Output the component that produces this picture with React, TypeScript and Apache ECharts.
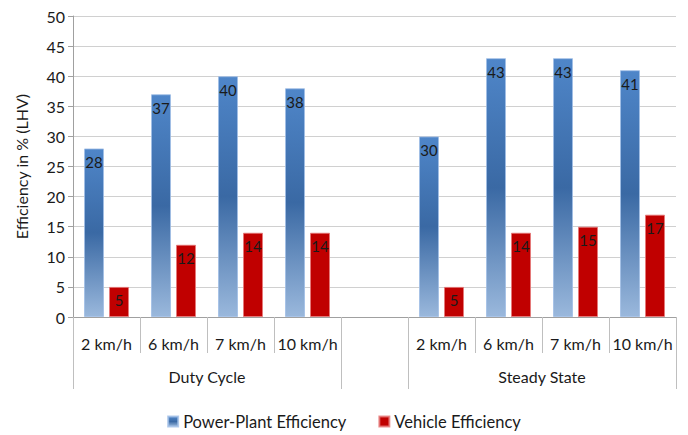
import React, { useEffect, useRef } from "react";
import * as echarts from "echarts";

const categories = ["2 km/h", "6 km/h", "7 km/h", "10 km/h", "", "2 km/h", "6 km/h", "7 km/h", "10 km/h"];
const groupLabels = ["Duty Cycle", "Steady State"];
const powerPlant = [28, 37, 40, 38, null, 30, 43, 43, 41];
const vehicle = [5, 12, 14, 14, null, 5, 14, 15, 17];
const seriesNames = ["Power-Plant Efficiency", "Vehicle Efficiency"];
const yTitle = "Efficiency in % (LHV)";

const FONT = "Lato";

export default function App() {
  const ref = useRef<HTMLDivElement>(null);
  useEffect(() => {
    document.body.style.margin = "0";
    if (!ref.current) return;
    const chart = echarts.init(ref.current, undefined, { renderer: "svg" });
    const boundaries: string[] = new Array(categories.length + 1).fill("");
    boundaries[2] = groupLabels[0];
    boundaries[7] = groupLabels[1];
    const outerIdx = [0, 4, 5, 9];
    const blueGrad = new echarts.graphic.LinearGradient(0, 0, 0, 1, [
      { offset: 0, color: "#4f86c9" },
      { offset: 0.5, color: "#3a69a4" },
      { offset: 1, color: "#9ab8dc" },
    ]);
    chart.setOption({
      animation: false,
      textStyle: { fontFamily: FONT },
      grid: { left: 73, right: 12, top: 16, bottom: 118 },
      legend: {
        bottom: 0,
        left: "center",
        icon: "rect",
        itemWidth: 10,
        itemHeight: 10,
        itemGap: 32,
        textStyle: { fontSize: 16.5, color: "#1a1a1a", fontFamily: FONT },
        data: seriesNames,
      },
      xAxis: [
        {
          type: "category",
          data: categories,
          boundaryGap: true,
          axisLine: { show: true, lineStyle: { color: "#a0a0a0" } },
          axisTick: { show: true, interval: 0, length: 36, lineStyle: { color: "#bfbfbf" } },
          axisLabel: { interval: 0, margin: 18, fontSize: 16, color: "#1a1a1a", fontFamily: FONT },
          splitLine: { show: false },
        },
        {
          type: "category",
          data: boundaries,
          boundaryGap: false,
          position: "bottom",
          axisLine: { show: false },
          axisTick: {
            show: true,
            interval: (i: number) => outerIdx.indexOf(i) >= 0,
            length: 72,
            lineStyle: { color: "#bfbfbf" },
          },
          axisLabel: { interval: 0, margin: 51, fontSize: 16, color: "#1a1a1a", fontFamily: FONT },
          splitLine: { show: false },
        },
      ],
      yAxis: {
        type: "value",
        min: 0,
        max: 50,
        interval: 5,
        name: yTitle,
        nameLocation: "middle",
        nameRotate: 90,
        nameGap: 44,
        nameTextStyle: { fontSize: 16, color: "#1a1a1a", fontFamily: FONT },
        axisLine: { show: true, lineStyle: { color: "#a0a0a0" } },
        axisTick: { show: true, length: 5, lineStyle: { color: "#a0a0a0" } },
        axisLabel: { margin: 8, fontSize: 16, color: "#1a1a1a", fontFamily: FONT },
        splitLine: { show: true, lineStyle: { color: "#d0d0d0" } },
      },
      series: [
        {
          name: seriesNames[0],
          type: "bar",
          xAxisIndex: 0,
          data: powerPlant,
          barWidth: 20,
          barGap: "25%",
          itemStyle: { color: blueGrad, borderColor: "rgba(160,190,230,0.8)", borderWidth: 1 },
          label: {
            show: true,
            position: "insideTop",
            distance: 6,
            fontSize: 15,
            color: "#1a1a1a",
            fontFamily: FONT,
          },
        },
        {
          name: seriesNames[1],
          type: "bar",
          xAxisIndex: 0,
          data: vehicle,
          barWidth: 20,
          itemStyle: { color: "#c00000", borderColor: "rgba(230,120,120,0.8)", borderWidth: 1 },
          label: {
            show: true,
            position: "insideTop",
            distance: 6,
            fontSize: 15,
            color: "#1a1a1a",
            fontFamily: FONT,
          },
        },
      ],
    });
    return () => chart.dispose();
  }, []);
  return <div ref={ref} style={{ width: 688, height: 435 }} />;
}
